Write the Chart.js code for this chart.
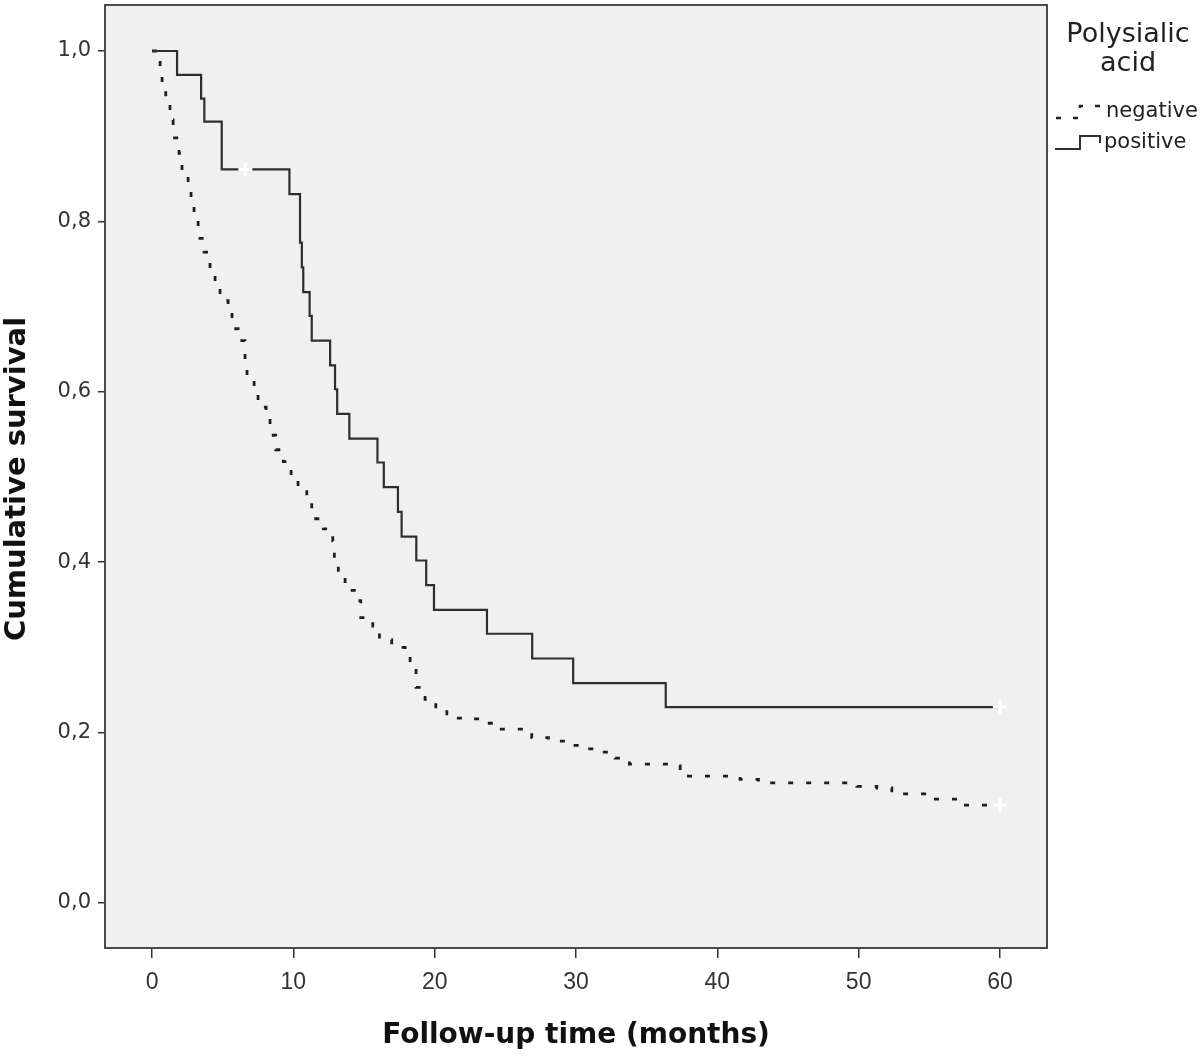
<!DOCTYPE html>
<html><head><meta charset="utf-8">
<script src="https://cdn.jsdelivr.net/npm/chart.js@4/dist/chart.umd.min.js"></script>
<style>html,body{margin:0;padding:0;background:#fff}#wrap{width:1200px;height:1057px}</style>
</head><body><div id="wrap"><canvas id="c" width="1200" height="1057"></canvas></div>
<script>
const seriesNames = ['negative', 'positive'];
const legendTitle = ['Polysialic', 'acid'];
const xTitle = 'Follow-up time (months)';
const yTitle = 'Cumulative survival';
const xTicks = [0, 10, 20, 30, 40, 50, 60];
const xTickLabels = ['0', '10', '20', '30', '40', '50', '60'];
const yTicks = [0, 0.2, 0.4, 0.6, 0.8, 1.0];
const yTickLabels = ['0,0', '0,2', '0,4', '0,6', '0,8', '1,0'];

const posTime = [0, 1.77, 3.47, 3.7, 4.93, 9.72, 10.47, 10.6, 10.7, 11.15, 11.3, 12.6, 12.95, 13.1, 13.96, 15.95, 16.4, 17.4, 17.66, 18.7, 19.4, 19.95, 23.7, 26.9, 29.8, 36.35, 60];
const posSurv = [1.0, 0.972, 0.944, 0.917, 0.861, 0.832, 0.775, 0.746, 0.717, 0.689, 0.660, 0.631, 0.603, 0.574, 0.545, 0.517, 0.488, 0.459, 0.430, 0.402, 0.373, 0.344, 0.316, 0.287, 0.258, 0.230, 0.230];

const negTime = [0, 0.57, 0.71, 0.97, 1.27, 1.49, 1.91, 2.12, 2.55, 2.76, 2.97, 3.26, 3.68, 4.10, 4.46, 4.81, 5.38, 5.66, 6.09, 6.58, 6.72, 7.22, 7.50, 8.07, 8.35, 8.75, 9.29, 9.84, 10.33, 10.95, 11.30, 12.12, 12.79, 12.90, 13.18, 13.66, 14.44, 14.77, 15.62, 16.09, 16.96, 17.91, 18.26, 18.68, 19.32, 20.08, 20.86, 22.27, 23.45, 24.51, 26.87, 28.05, 29.28, 30.45, 31.63, 32.77, 33.78, 36.61, 37.37, 41.61, 42.91, 49.87, 51.29, 52.35, 54.83, 57.42, 60];
const negSurv = [1.0, 0.982, 0.959, 0.939, 0.919, 0.898, 0.880, 0.860, 0.842, 0.821, 0.801, 0.780, 0.764, 0.747, 0.727, 0.707, 0.693, 0.674, 0.660, 0.640, 0.619, 0.602, 0.582, 0.569, 0.549, 0.532, 0.518, 0.504, 0.486, 0.470, 0.451, 0.439, 0.425, 0.403, 0.382, 0.367, 0.355, 0.335, 0.325, 0.309, 0.300, 0.290, 0.273, 0.253, 0.239, 0.228, 0.217, 0.216, 0.211, 0.204, 0.194, 0.190, 0.185, 0.181, 0.177, 0.170, 0.163, 0.161, 0.149, 0.145, 0.141, 0.137, 0.135, 0.128, 0.122, 0.115, 0.115];

const posCensorTime = [6.6, 60];
const posCensorSurv = [0.861, 0.230];
const negCensorTime = [60];
const negCensorSurv = [0.115];

const toXY = (xs, ys) => xs.map((x, i) => ({x: x, y: ys[i]}));
const FONT = "'Liberation Sans', Arial, sans-serif";
const WIDE = "'DejaVu Sans', Verdana, sans-serif";
const FRAME_EXTRA_TOP = 5;

const plotBg = {
  id: 'plotBg',
  beforeDraw(chart) {
    const a = chart.chartArea, ctx = chart.ctx;
    const top = a.top - FRAME_EXTRA_TOP;
    ctx.save();
    ctx.fillStyle = '#f0f0f0';
    ctx.fillRect(a.left, top, a.right - a.left, a.bottom - top);
    ctx.restore();
  },
  beforeDatasetsDraw(chart) {
    const a = chart.chartArea, ctx = chart.ctx;
    const top = a.top - FRAME_EXTRA_TOP;
    ctx.save();
    ctx.strokeStyle = '#4a4a4a';
    ctx.lineWidth = 2;
    ctx.strokeRect(a.left, top, a.right - a.left, a.bottom - top);
    ctx.restore();
  }
};

const customLegend = {
  id: 'customLegend',
  afterDraw(chart) {
    const ctx = chart.ctx;
    ctx.save();
    ctx.fillStyle = '#222';
    ctx.textAlign = 'center';
    ctx.textBaseline = 'middle';
    ctx.font = '27px ' + WIDE;
    ctx.fillText(legendTitle[0], 1128, 35);
    ctx.fillText(legendTitle[1], 1128, 64);
    ctx.textAlign = 'left';
    ctx.font = '21px ' + WIDE;
    ctx.fillText(seriesNames[0], 1106, 112);
    ctx.fillText(seriesNames[1], 1104, 143);
    ctx.strokeStyle = '#222';
    ctx.lineWidth = 2.5;
    ctx.setLineDash([5, 12]);
    ctx.beginPath();
    ctx.moveTo(1056, 118);
    ctx.lineTo(1080, 118);
    ctx.lineTo(1080, 106);
    ctx.lineTo(1103, 106);
    ctx.stroke();
    ctx.setLineDash([]);
    ctx.lineWidth = 2;
    ctx.strokeStyle = '#303030';
    ctx.beginPath();
    ctx.moveTo(1055, 149);
    ctx.lineTo(1080, 149);
    ctx.lineTo(1080, 136);
    ctx.lineTo(1100, 136);
    ctx.lineTo(1100, 143);
    ctx.stroke();
    ctx.restore();
  }
};

new Chart(document.getElementById('c'), {
  type: 'line',
  data: {
    datasets: [
      { label: seriesNames[1] + ' censored', data: toXY(posCensorTime, posCensorSurv), showLine: false,
        pointStyle: 'cross', pointRadius: 7, pointBorderWidth: 3, pointBorderColor: '#ffffff', pointBackgroundColor: '#ffffff', order: 0 },
      { label: seriesNames[0] + ' censored', data: toXY(negCensorTime, negCensorSurv), showLine: false,
        pointStyle: 'cross', pointRadius: 7, pointBorderWidth: 3, pointBorderColor: '#ffffff', pointBackgroundColor: '#ffffff', order: 0 },
      { label: seriesNames[1], data: toXY(posTime, posSurv), stepped: true, borderColor: '#2e2e2e', borderWidth: 2.2,
        pointRadius: 0, fill: false, order: 1 },
      { label: seriesNames[0], data: toXY(negTime, negSurv), stepped: true, borderColor: '#1e1e1e', borderWidth: 2.8,
        borderDash: [5, 13], pointRadius: 0, fill: false, order: 1 }
    ]
  },
  options: {
    responsive: false,
    animation: false,
    layout: { padding: { left: 0, right: 153, top: 0, bottom: 0 } },
    plugins: { legend: { display: false }, tooltip: { enabled: false } },
    scales: {
      x: {
        type: 'linear', min: -3.33, max: 63.33,
        afterBuildTicks: s => { s.ticks = xTicks.map(v => ({ value: v })); },
        afterFit: s => { s.height = 109; s.paddingLeft = 0; s.paddingRight = 0; },
        ticks: { callback: (v) => xTickLabels[xTicks.indexOf(v)], font: { family: FONT, size: 23 }, color: '#333', padding: 11, maxRotation: 0 },
        grid: { display: true, drawOnChartArea: false, drawTicks: true, tickLength: 10, color: '#333', lineWidth: 1.5 },
        border: { display: false },
        title: { display: true, text: xTitle, font: { family: WIDE, size: 28, weight: 'bold' }, color: '#111', padding: { top: 0, bottom: 4 } }
      },
      y: {
        type: 'linear', min: -0.0528, max: 1.0481,
        afterBuildTicks: s => { s.ticks = yTicks.map(v => ({ value: v })); },
        afterFit: s => { s.width = 105; s.paddingTop = 0; s.paddingBottom = 0; },
        ticks: { callback: (v) => yTickLabels[yTicks.findIndex(t => Math.abs(t - v) < 1e-6)], font: { family: WIDE, size: 21 }, color: '#333', padding: 7 },
        grid: { display: true, drawOnChartArea: false, drawTicks: true, tickLength: 7, color: '#333', lineWidth: 1.5 },
        border: { display: false },
        title: { display: true, text: yTitle, font: { family: WIDE, size: 29, weight: 'bold' }, color: '#111', padding: { top: 0, bottom: 0 } }
      }
    }
  },
  plugins: [plotBg, customLegend]
});
</script></body></html>
